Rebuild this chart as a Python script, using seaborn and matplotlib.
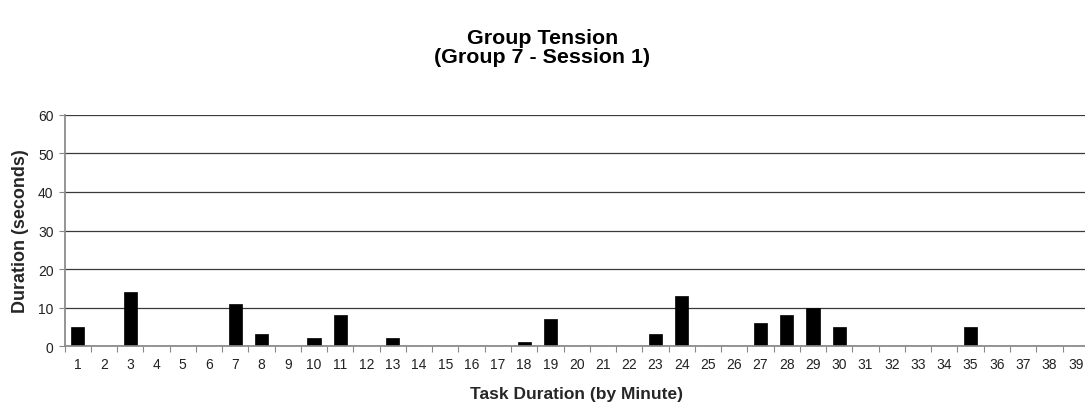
import matplotlib
matplotlib.use("Agg")
import matplotlib.pyplot as plt
import numpy as np
import pandas as pd
import seaborn as sns

minutes = [str(m) for m in range(1, 40)]
durations = [5, 0, 14, 0, 0, 0, 11, 3, 0, 2, 8, 0, 2, 0, 0, 0, 0, 1, 7, 0,
             0, 0, 3, 13, 0, 0, 6, 8, 10, 5, 0, 0, 0, 0, 5, 0, 0, 0, 0]
y_ticks = [0, 10, 20, 30, 40, 50, 60]

sns.set_theme(style="white")
plt.rcParams["font.family"] = ["Liberation Sans", "DejaVu Sans"]

df = pd.DataFrame({"minute": minutes, "duration": durations})

fig = plt.figure(figsize=(10.85, 4.06), dpi=100)
ax = fig.add_axes([0.0595, 0.1453, 0.944, 0.569])

sns.barplot(data=df, x="minute", y="duration", order=minutes, color="black",
            width=0.5, edgecolor="black", linewidth=0.5, saturation=1, ax=ax)

ax.set_ylim(0, 60)
ax.set_xlim(-0.5, len(minutes) - 0.5)
ax.set_yticks(y_ticks)
ax.yaxis.grid(True, color="#3a3a3a", linewidth=0.9)
ax.set_axisbelow(True)

for side in ("top", "right"):
    ax.spines[side].set_visible(False)
ax.spines["left"].set_color("#888888")
ax.spines["bottom"].set_color("#888888")

ax.set_xticks(np.arange(len(minutes)))
ax.set_xticklabels(minutes)
ax.set_xticks(np.arange(len(minutes) + 1) - 0.5, minor=True)
ax.tick_params(axis="x", which="major", length=0, pad=8, labelsize=10, colors="#222222")
ax.tick_params(axis="x", which="minor", length=4, width=0.8, color="#888888", direction="out", bottom=True)
ax.tick_params(axis="y", which="major", length=4, width=0.8, color="#888888", direction="out",
               left=True, labelsize=10, colors="#222222", pad=4)

ax.set_xlabel("Task Duration (by Minute)", fontsize=12.5, fontweight="bold", labelpad=11)
ax.set_ylabel("Duration (seconds)", fontsize=13, fontweight="bold", labelpad=6)

fig.text(0.5, 0.882, "Group Tension\n(Group 7 - Session 1)", ha="center", va="center",
         fontsize=15.4, fontweight="bold", linespacing=1.0, color="black")

fig.savefig("out.png", dpi=100)
